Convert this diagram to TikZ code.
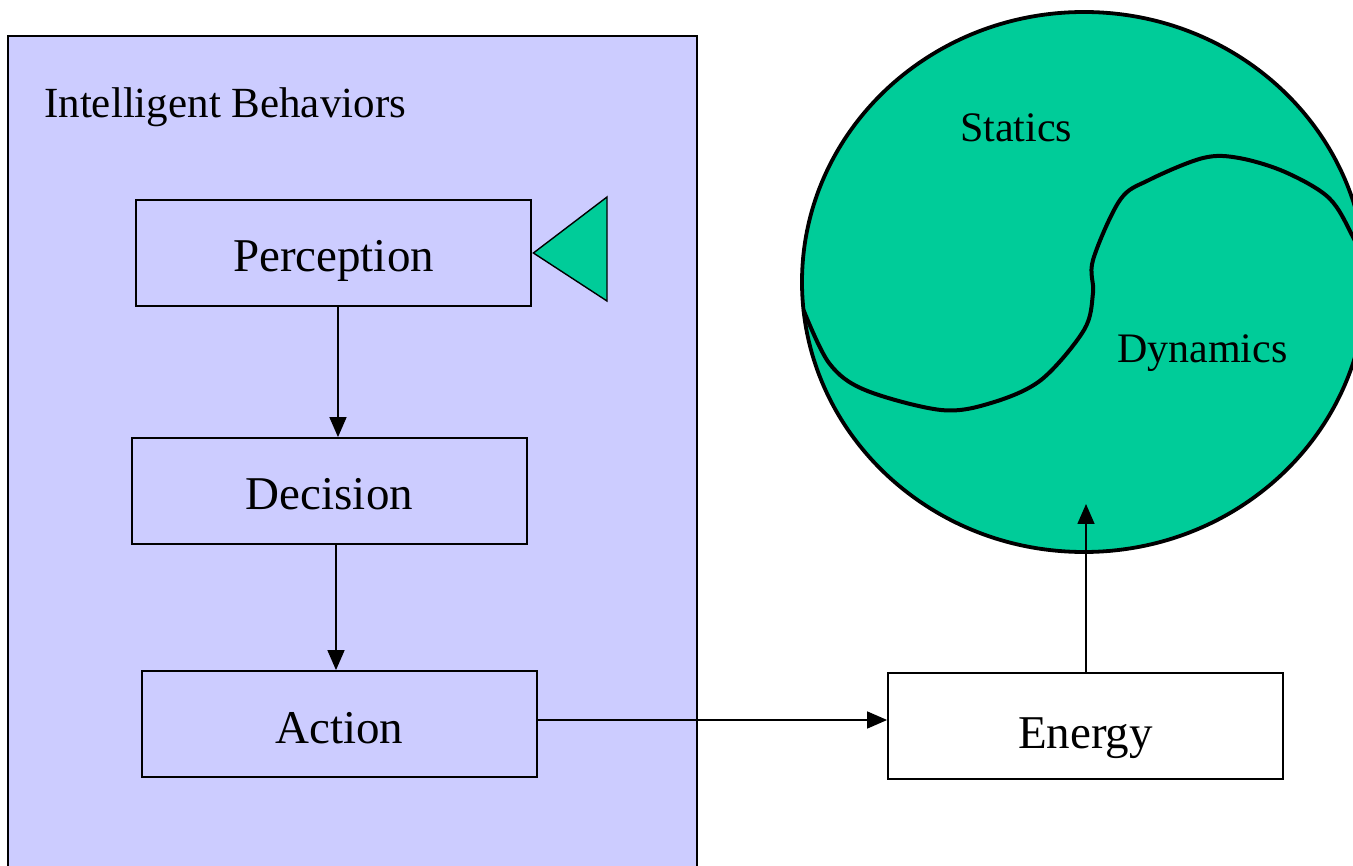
\documentclass[tikz,border=0pt]{standalone}
\usepackage{fontspec}
\setmainfont{Liberation Serif}
\usetikzlibrary{arrows.meta,shapes.geometric}

\definecolor{panelblue}{HTML}{CCCCFF}
\definecolor{worldgreen}{HTML}{00CC99}

\tikzset{
  stagebox/.style={draw=black, line width=1.8pt, minimum width=395pt, minimum height=106pt,
                   inner sep=0pt, text height=38pt, text depth=0pt,
                   font=\fontsize{47}{56}\selectfont},
  label42/.style={font=\fontsize{42}{50}\selectfont, inner sep=0pt},
  flow/.style={line width=1.6pt, -{Triangle[length=20pt,width=17pt]}},
}

\begin{document}
\begin{tikzpicture}[x=1pt,y=-1pt]
  \clip (0,0) rectangle (1353,866);
  \fill[white] (0,0) rectangle (1353,866);

  % panel of intelligent behaviours (runs off the lower edge)
  \draw[fill=panelblue, line width=1.8pt] (8,36) rectangle (697,900);
  \node[label42, font=\fontsize{43}{50}\selectfont, anchor=base west] (title) at (44,118) {Intelligent Behaviors};

  % stages of the behaviour loop
  \node[stagebox, fill=panelblue] (perc) at (333.5,253) {Perception};
  \node[stagebox, fill=panelblue] (dec)  at (329.5,491) {Decision};
  \node[stagebox, fill=panelblue] (act)  at (339.5,724) {Action};
  \node[stagebox, fill=white, text height=45pt] (en) at (1085.5,726) {Energy};

  % sensor cone attached to perception
  \draw[fill=worldgreen, line width=1.4pt]
    ([xshift=1.5pt]perc.east) -- (607,197) -- (607,301) -- cycle;

  % the world: statics and dynamics
  \node[ellipse, draw=black, line width=3.8pt, fill=worldgreen,
        minimum width=564pt, minimum height=540pt, inner sep=0pt] (world) at (1084,282) {};
  \draw[line width=4pt, line join=round]
    plot[smooth, tension=0.55] coordinates {
      (803.5,310) (829,363) (865,390) (941,410) (991,403) (1041,380)
      (1084,330) (1093,293) (1093,260) (1120,200) (1149,180) (1203,158)
      (1239,158) (1285,172) (1329,198) (1353,237) (1372,280)};
  \node[label42, anchor=base west] (statics)  at (960,142) {Statics};
  \node[label42, anchor=base west] (dynamics) at (1117,363) {Dynamics};

  % connectors
  \draw[flow] ([xshift=4.5pt]perc.south) -- ([xshift=4.5pt]perc.south |- dec.north);
  \draw[flow] ([xshift=6.5pt]dec.south) -- ([xshift=6.5pt]dec.south |- act.north);
  \draw[flow] ([yshift=4pt]act.east) -- ([yshift=4pt]act.east -| en.west);
  \coordinate (worldin) at (1086,504);
  \draw[flow] (en.north -| worldin) -- (worldin);
\end{tikzpicture}
\end{document}
